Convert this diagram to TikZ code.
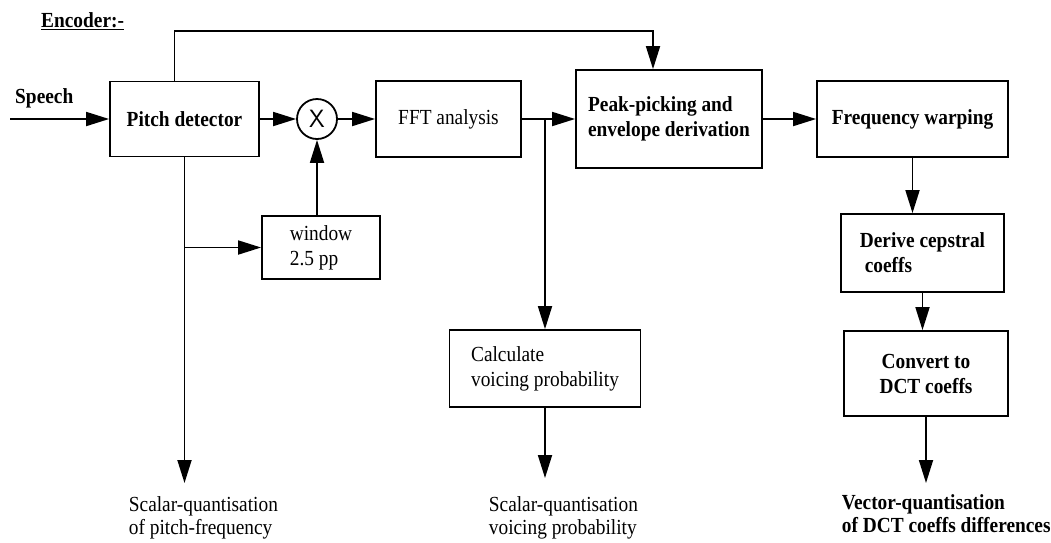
\documentclass[tikz,border=0pt]{standalone}
\usepackage{fontspec}
\setmainfont{Liberation Serif}[FakeStretch=0.9]
\usetikzlibrary{arrows.meta,positioning}
\begin{document}
\begin{tikzpicture}[x=1pt, y=-1pt, line width=1.8pt,
    font=\fontsize{21.5}{25}\selectfont,
    blk/.style={draw, rectangle, align=left, inner sep=0pt},
    lbl/.style={anchor=north west, align=left, inner sep=0pt, font=\fontsize{21.5}{22.5}\selectfont},
    tip/.style={-{Triangle[length=23pt,width=14pt]}}]
    \useasboundingbox (0,0) rectangle (1051,542) ;

    \node [anchor=base west] (title) at (37,27) {\bfseries\underline{Encoder:-}} ;
    \node [anchor=base west] (speech) at (11,103) {\bfseries Speech} ;
    \coordinate (src) at (10,119) ;

    % main row
    \node [blk, minimum width=149pt, minimum height=75pt] (pitch) at (184.5,119) {\bfseries Pitch detector} ;
    \node [draw, circle, minimum size=40pt, inner sep=0pt, font=\fontsize{25}{25}\sffamily] (mult) at (317,119) {X} ;
    \node [blk, minimum width=145pt, minimum height=76pt] (fft) at (448.5,119) {FFT analysis} ;
    \node [blk, minimum width=186pt, minimum height=98pt] (peak) at (669,119) {\bfseries Peak-picking and\\\bfseries envelope derivation} ;
    \node [blk, minimum width=191pt, minimum height=76pt] (freq) at (912.5,119) {\bfseries Frequency warping} ;

    % lower boxes
    \node [blk, minimum width=118pt, minimum height=63pt] (window) at (321,247.5) {window\\2.5 pp} ;
    \node [blk, minimum width=191pt, minimum height=77pt] (calc) at (545,368.5) {Calculate\\voicing probability} ;
    \node [blk, minimum width=163pt, minimum height=78pt] (derive) at (922.5,253) {\bfseries Derive cepstral\\\bfseries\ coeffs} ;
    \node [blk, minimum width=164pt, minimum height=85pt, align=center] (convert) at (926,373.5) {\bfseries Convert to\\\bfseries DCT coeffs} ;

    % outputs
    \coordinate (out1) at (184.5,483) ;
    \coordinate (out2) at (545,478) ;
    \coordinate (out3) at (926,483) ;
    \node [lbl] (qpitch) at (128,496) {Scalar-quantisation\\of pitch-frequency} ;
    \node [lbl] (qvoice) at (488,496) {Scalar-quantisation\\voicing probability} ;
    \node [lbl] (qdct) at (841,494) {\bfseries Vector-quantisation\\\bfseries of DCT coeffs differences} ;

    % connections
    \draw [tip] (src) -- (pitch.west) ;
    \draw [tip] (pitch.east) -- (mult.west) ;
    \draw [tip] (mult.east) -- (fft.west) ;
    \draw [tip] (fft.east) -- (peak.west) ;
    \draw [tip] (peak.east) -- (freq.west) ;
    \draw [tip] ([xshift=-10pt]pitch.north) -- ++(0,-50) -| ([xshift=-16pt]peak.north) ;
    \draw [tip] (pitch.south) -- (out1) ;
    \draw [tip] (pitch.south |- window.west) -- (window.west) ;
    \draw [tip] (mult.south |- window.north) -- (mult.south) ;
    \draw [tip] (fft.east -| calc.north) -- (calc.north) ;
    \draw [tip] (calc.south) -- (out2) ;
    \draw [tip] (freq.south) -- (freq.south |- derive.north) ;
    \draw [tip] (derive.south) -- (derive.south |- convert.north) ;
    \draw [tip] (convert.south) -- (out3) ;
\end{tikzpicture}
\end{document}
